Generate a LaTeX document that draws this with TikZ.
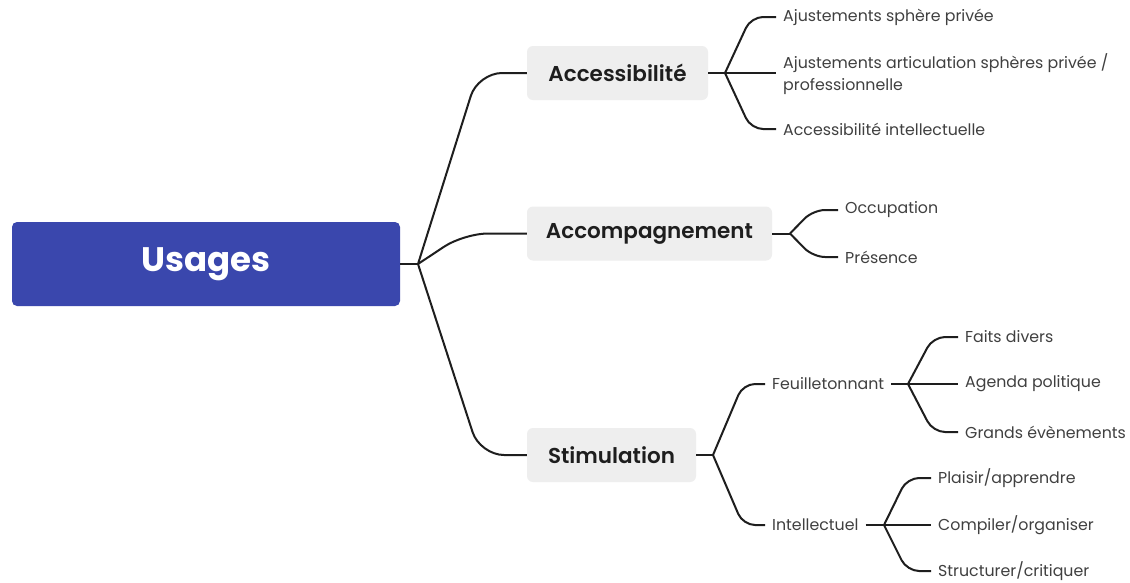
\documentclass[tikz,border=0pt]{standalone}
\usepackage{fontspec}
\setmainfont{Poppins}
\newfontfamily\topicfont{Poppins SemiBold}
\definecolor{rootblue}{HTML}{3A47AD}
\definecolor{boxgray}{HTML}{EEEEEE}
\definecolor{ink}{HTML}{1E1E1E}
\definecolor{leaftext}{HTML}{404040}
\begin{document}
\begin{tikzpicture}[x=1pt,y=-1pt,
  rootbox/.style={fill=rootblue, rounded corners=5pt, minimum width=388pt, minimum height=84pt,
    text=white, font=\bfseries\fontsize{34}{40}\selectfont},
  topic/.style={fill=boxgray, rounded corners=6pt, minimum height=54pt,
    text=ink, font=\topicfont\fontsize{21.5}{25}\selectfont},
  leaf/.style={anchor=west, inner xsep=7pt, inner ysep=0pt, text=leaftext, align=left,
    font=\fontsize{15.8}{22}\selectfont},
  conn/.style={draw=ink, line width=2pt, rounded corners=12pt},
  mainconn/.style={draw=ink, line width=2pt, rounded corners=24pt}]
\fill[white] (0,0) rectangle (1130,582);
\useasboundingbox (0,0) rectangle (1130,582);

% nodes
\node[rootbox] (usages) at (206,264) {Usages};
\node[topic, minimum width=181pt] (acc) at (617.5,73) {Accessibilité};
\node[topic, minimum width=245pt] (accomp) at (649.5,233.5) {Accompagnement};
\node[topic, minimum width=169pt] (stim) at (611.5,455) {Stimulation};

\node[leaf] (a1) at (776,17) {Ajustements sphère privée};
\node[leaf] (a2) at (776,74) {Ajustements articulation sphères privée /\\professionnelle};
\node[leaf] (a3) at (776,129) {Accessibilité intellectuelle};

\node[leaf] (b1) at (838,210) {Occupation};
\node[leaf] (b2) at (838,257) {Présence};

\node[leaf] (s1) at (765,384) {Feuilletonnant};
\node[leaf] (s2) at (765,525) {Intellectuel};

\node[leaf] (f1) at (958,337) {Faits divers};
\node[leaf] (f2) at (958,384) {Agenda politique};
\node[leaf] (f3) at (958,432) {Grands évènements};

\node[leaf] (i1) at (931,478) {Plaisir/apprendre};
\node[leaf] (i2) at (931,525) {Compiler/organiser};
\node[leaf] (i3) at (931,571) {Structurer/critiquer};

% junctions and bends
\coordinate (j0) at (418,264);
\coordinate (k1) at (478,73);
\coordinate (k2) at (464,233.5);
\coordinate (k3) at (480,455);

\coordinate (j1) at (725,73);
\coordinate (q1) at (751,17);
\coordinate (q3) at (751,129);

\coordinate (j2) at (790,233.5);
\coordinate (r1) at (813,210);
\coordinate (r2) at (813,257);

\coordinate (j3) at (713,455);
\coordinate (t1) at (743,384);
\coordinate (t2) at (743,525);

\coordinate (j4) at (908,384);
\coordinate (u1) at (933,337);
\coordinate (u3) at (933,432);

\coordinate (j5) at (884,525);
\coordinate (v1) at (907,478);
\coordinate (v3) at (907,571);

% connectors
\draw[conn] (usages.east) -- (j0);
\draw[mainconn] (j0) -- (k1) -- (acc.west);
\draw[mainconn] (j0) -- (k2) -- (accomp.west);
\draw[mainconn] (j0) -- (k3) -- (stim.west);

\draw[conn] (acc.east) -- (j1);
\draw[conn] (j1) -- (q1) -- (a1.west);
\draw[conn] (j1) -- (j1 -| a2.west);
\draw[conn] (j1) -- (q3) -- (a3.west);

\draw[conn] (accomp.east) -- (j2);
\draw[conn] (j2) -- (r1) -- (b1.west);
\draw[conn] (j2) -- (r2) -- (b2.west);

\draw[conn] (stim.east) -- (j3);
\draw[conn] (j3) -- (t1) -- (s1.west);
\draw[conn] (j3) -- (t2) -- (s2.west);

\draw[conn] (s1.east) -- (j4);
\draw[conn] (j4) -- (u1) -- (f1.west);
\draw[conn] (j4) -- (f2.west);
\draw[conn] (j4) -- (u3) -- (f3.west);

\draw[conn] (s2.east) -- (j5);
\draw[conn] (j5) -- (v1) -- (i1.west);
\draw[conn] (j5) -- (i2.west);
\draw[conn] (j5) -- (v3) -- (i3.west);
\end{tikzpicture}
\end{document}
